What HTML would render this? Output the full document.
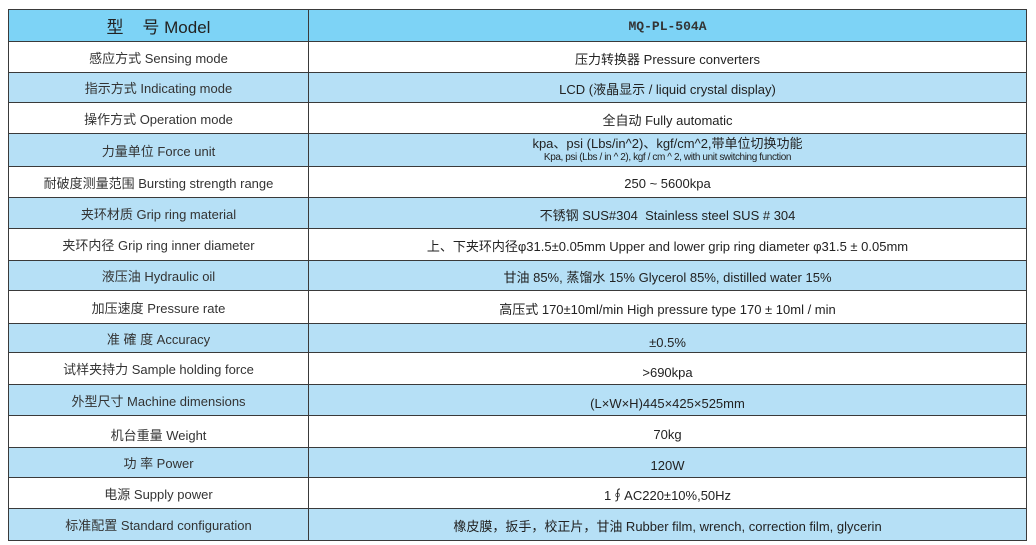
<!DOCTYPE html>
<html><head><meta charset="utf-8"><style>
body{margin:0;width:1036px;height:545px;background:#fff;overflow:hidden;font-family:"Liberation Sans","Noto Sans CJK SC",sans-serif;color:#222}
.r{position:absolute;left:8px;width:1019px;box-sizing:border-box;border:1px solid #3a3a3a;border-top:none;display:flex}
.r.w{background:#fff}.r.b{background:#b6e0f6}
.c1{width:299px;border-right:1px solid #3a3a3a;display:flex;align-items:center;justify-content:center;font-size:13px;color:#333}
.c2{flex:1;display:flex;flex-direction:column;align-items:center;justify-content:center;font-size:13px;color:#222;padding-top:2px}
</style></head><body>
<div class="r" style="top:9px;height:33px;border-top:1px solid #3a3a3a;background:#7dd3f6"><div class="c1" style="font-size:17px;color:#222">型&nbsp;&nbsp;&nbsp;&nbsp;号 Model</div><div class="c2" style="font-family:'Liberation Mono',monospace;font-size:13px;font-weight:bold;color:#333">MQ-PL-504A</div></div>
<div class="r w" style="top:42px;height:31px"><div class="c1">感应方式 Sensing mode</div><div class="c2">压力转换器 Pressure converters</div></div>
<div class="r b" style="top:73px;height:30px"><div class="c1">指示方式 Indicating mode</div><div class="c2">LCD (液晶显示 / liquid crystal display)</div></div>
<div class="r w" style="top:103px;height:31px"><div class="c1">操作方式 Operation mode</div><div class="c2">全自动 Fully automatic</div></div>
<div class="r b" style="top:134px;height:33px"><div class="c1">力量单位 Force unit</div><div class="c2" style="line-height:14px"><span>kpa、psi (Lbs/in^2)、kgf/cm^2,带单位切换功能</span><span style="font-size:10px;letter-spacing:-0.4px">Kpa, psi (Lbs / in ^ 2), kgf / cm ^ 2, with unit switching function</span></div></div>
<div class="r w" style="top:167px;height:31px"><div class="c1">耐破度测量范围 Bursting strength range</div><div class="c2">250 ~ 5600kpa</div></div>
<div class="r b" style="top:198px;height:31px"><div class="c1">夹环材质 Grip ring material</div><div class="c2">不锈钢 SUS#304&nbsp; Stainless steel SUS # 304</div></div>
<div class="r w" style="top:229px;height:32px"><div class="c1">夹环内径 Grip ring inner diameter</div><div class="c2">上、下夹环内径φ31.5±0.05mm Upper and lower grip ring diameter φ31.5 ± 0.05mm</div></div>
<div class="r b" style="top:261px;height:30px"><div class="c1">液压油 Hydraulic oil</div><div class="c2">甘油 85%, 蒸馏水 15% Glycerol 85%, distilled water 15%</div></div>
<div class="r w" style="top:291px;height:33px"><div class="c1">加压速度 Pressure rate</div><div class="c2">高压式 170±10ml/min High pressure type 170 ± 10ml / min</div></div>
<div class="r b" style="top:324px;height:29px"><div class="c1">准 確 度 Accuracy</div><div class="c2" style="padding-top:8px">±0.5%</div></div>
<div class="r w" style="top:353px;height:32px"><div class="c1">试样夹持力 Sample holding force</div><div class="c2" style="padding-top:8px">&gt;690kpa</div></div>
<div class="r b" style="top:385px;height:31px"><div class="c1">外型尺寸 Machine dimensions</div><div class="c2" style="padding-top:6px">(L×W×H)445×425×525mm</div></div>
<div class="r w" style="top:416px;height:32px"><div class="c1" style="padding-top:6px">机台重量 Weight</div><div class="c2" style="padding-top:6px">70kg</div></div>
<div class="r b" style="top:448px;height:30px"><div class="c1">功 率 Power</div><div class="c2" style="padding-top:6px">120W</div></div>
<div class="r w" style="top:478px;height:31px"><div class="c1">电源 Supply power</div><div class="c2">1∮AC220±10%,50Hz</div></div>
<div class="r b" style="top:509px;height:32px"><div class="c1">标准配置 Standard configuration</div><div class="c2">橡皮膜，扳手，校正片，甘油 Rubber film, wrench, correction film, glycerin</div></div>
</body></html>
